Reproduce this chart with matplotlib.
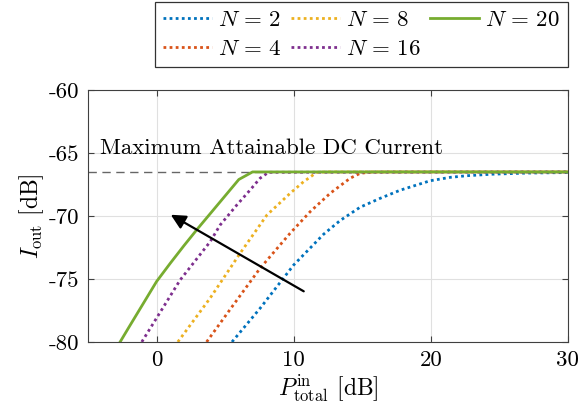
import numpy as np
import matplotlib
matplotlib.use('Agg')
import matplotlib.pyplot as plt
import matplotlib.ticker as tick

# krivulje izlazne DC struje za razlicit broj antena N
labels = [r'$N\,=\,2$', r'$N\,=\,4$', r'$N\,=\,8$', r'$N\,=\,16$', r'$N\,=\,20$']
colors = ['#0072BD', '#D95319', '#EDB120', '#7E2F8E', '#77AC30']

p2 = [5.5, 7.55, 10.0, 12.18, 13.4, 14.85, 16.3, 17.77, 19.96, 21.42, 22.64, 24.5, 27.0, 30.0]
i2 = [-80.0, -77.33, -73.89, -71.45, -70.35, -69.3, -68.6, -67.95, -67.2, -66.93, -66.8,
      -66.68, -66.59, -66.55]
p4 = [3.65, 5.6, 7.55, 9.74, 11.2, 12.66, 14.12, 14.85, 15.6, 17.0, 30.0]
i4 = [-80.0, -77.06, -74.15, -71.37, -69.66, -68.2, -67.0, -66.61, -66.52, -66.5, -66.5]
p8 = [1.55, 3.9, 6.1, 8.05, 9.74, 10.72, 11.69, 12.5, 30.0]
i8 = [-80.0, -76.53, -72.95, -69.92, -68.2, -67.28, -66.53, -66.5, -66.5]
p16 = [-1.08, 1.72, 3.91, 4.64, 5.85, 6.82, 7.55, 8.16, 30.0]
i16 = [-80.0, -75.08, -72.04, -70.71, -69.13, -67.94, -67.0, -66.53, -66.5]
p20 = [-2.66, -2.0, -1.0, 0.0, 1.0, 2.0, 3.0, 4.0, 5.0, 6.0, 7.0, 30.0]
i20 = [-80.0, -78.8, -77.0, -75.2, -73.75, -72.35, -71.0, -69.7, -68.4, -67.1, -66.5, -66.5]

Imax = -66.5  # maksimalna dostizna DC struja

plt.rcParams.update({'font.family': 'serif', 'font.serif': ['cmr10'],
                     'mathtext.fontset': 'cm', 'axes.unicode_minus': False,
                     'font.size': 16})

fig = plt.figure(figsize=(5.83, 4.17), dpi=100)
ax = fig.add_axes([0.151, 0.180, 0.823, 0.604])

ax.axhline(Imax, color='0.4', lw=1.0, linestyle=(0, (6, 4)), zorder=1)
ax.text(-4.12, -64.6, 'Maximum Attainable DC Current', fontsize=16.5, va='center', ha='left')

serije = [(p2, i2), (p4, i4), (p8, i8), (p16, i16)]
for (p, i), c, lab in zip(serije, colors[:4], labels[:4]):
    ax.plot(p, i, color=c, lw=2.0, linestyle=(0, (1, 1.2)), label=lab)
ax.plot(p20, i20, color=colors[4], lw=2.0, label=labels[4])

ax.annotate('', xy=(0.86, -69.79), xytext=(10.91, -76.09),
            arrowprops=dict(arrowstyle='-|>', color='k', lw=1.6, mutation_scale=22))

ax.set_xlim(-5, 30)
ax.set_ylim(-80, -60)
ax.xaxis.set_major_locator(tick.MultipleLocator(10))
ax.yaxis.set_major_locator(tick.MultipleLocator(5))
ax.tick_params(direction='in', top=True, right=True, length=4, width=0.8, color='0.25',
               labelsize=16.5, pad=6)
for s in ax.spines.values():
    s.set_color('0.25')
    s.set_linewidth(0.8)
ax.grid(color='0.88', lw=0.8)
ax.set_axisbelow(True)
ax.set_xlabel(r'$P^{\rm in}_{\rm total}$ [dB]', fontsize=17, labelpad=2)
ax.set_ylabel(r'$I_{\rm out}$ [dB]', fontsize=17, labelpad=2)

leg = fig.legend(loc='upper right', bbox_to_anchor=(0.975, 0.995), ncol=3, fancybox=False,
                 edgecolor='0.2', framealpha=1, fontsize=16.5, handlelength=2.1,
                 borderpad=0.35, labelspacing=0.4, columnspacing=0.4, handletextpad=0.3,
                 borderaxespad=0)
leg.get_frame().set_linewidth(0.9)

fig.savefig('out.png', dpi=100)
